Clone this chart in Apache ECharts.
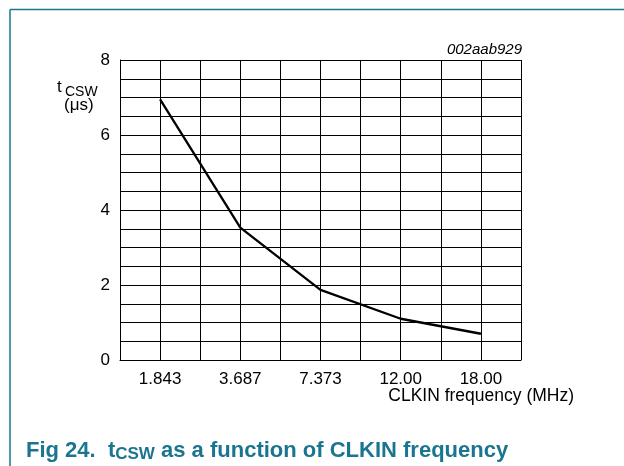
<!DOCTYPE html>
<html>
<head>
<meta charset="utf-8">
<script src="https://cdn.jsdelivr.net/npm/echarts@6/dist/echarts.min.js"></script>
<style>
html,body{margin:0;padding:0;background:#fff;}
#c{width:624px;height:466px;}
</style>
</head>
<body>
<div id="c"></div>
<script>
var categories = ['1.843', '3.687', '7.373', '12.00', '18.00'];
var tcswValues = [6.95, 3.53, 1.87, 1.10, 0.70];
var yTicks = [0, 2, 4, 6, 8];

var FONT = '"Liberation Sans", Arial, Helvetica, sans-serif';
var teal = '#1a7590';

var chart = echarts.init(document.getElementById('c'), null, {renderer: 'canvas'});
chart.setOption({
  animation: false,
  backgroundColor: '#fff',
  grid: {left: 120, right: 103, top: 60, bottom: 106, containLabel: false},
  xAxis: [{
    type: 'category',
    data: categories,
    boundaryGap: true,
    axisLine: {show: true, lineStyle: {color: '#000', width: 1}},
    axisTick: {show: false},
    axisLabel: {color: '#000', fontSize: 17, fontFamily: FONT, margin: 11},
    splitLine: {show: false}
  }, {
    type: 'value',
    min: 0, max: 10, interval: 1,
    position: 'bottom',
    axisLine: {show: false},
    axisTick: {show: false},
    axisLabel: {show: false},
    splitLine: {show: true, lineStyle: {color: '#000', width: 1}}
  }],
  yAxis: [{
    type: 'value',
    min: yTicks[0], max: yTicks[yTicks.length - 1], interval: 2,
    axisLine: {show: true, lineStyle: {color: '#000', width: 1}},
    axisTick: {show: false},
    axisLabel: {color: '#000', fontSize: 17, fontFamily: FONT, margin: 10},
    splitLine: {show: false}
  }, {
    type: 'value',
    min: yTicks[0], max: yTicks[yTicks.length - 1], interval: 0.5,
    position: 'left',
    axisLine: {show: false},
    axisTick: {show: false},
    axisLabel: {show: false},
    splitLine: {show: true, lineStyle: {color: '#000', width: 1}}
  }],
  series: [{
    type: 'line',
    xAxisIndex: 0,
    yAxisIndex: 0,
    data: tcswValues,
    symbol: 'none',
    lineStyle: {color: '#000', width: 2.3},
    z: 10
  }],
  graphic: [
    {type: 'line', shape: {x1: 10, y1: 9.5, x2: 624, y2: 9.5}, style: {stroke: teal, lineWidth: 1.5}},
    {type: 'line', shape: {x1: 10, y1: 9.5, x2: 10, y2: 466}, style: {stroke: teal, lineWidth: 1.5}},
    {type: 'text', right: 102, top: 42, style: {text: '002aab929', font: 'italic 15px ' + FONT, fill: '#000'}},
    {type: 'text', left: 57, top: 79, style: {text: 't', font: '17px ' + FONT, fill: '#000'}},
    {type: 'text', left: 65, top: 85, style: {text: 'CSW', font: '14px ' + FONT, fill: '#000'}},
    {type: 'text', left: 64, top: 97, style: {text: '(\u03bcs)', font: '17px ' + FONT, fill: '#000'}},
    {type: 'text', right: 50, top: 387, style: {text: 'CLKIN frequency (MHz)', font: '17.5px ' + FONT, fill: '#000'}},
    {type: 'text', left: 26, top: 440, style: {
      text: '{n|Fig 24.  t}{s|CSW}{n| as a function of CLKIN frequency}',
      rich: {
        n: {fontSize: 22, fontWeight: 'bold', fontFamily: FONT, fill: teal, color: teal, lineHeight: 24, verticalAlign: 'middle'},
        s: {fontSize: 17, fontWeight: 'bold', fontFamily: FONT, fill: teal, color: teal, lineHeight: 10, verticalAlign: 'bottom'}
      }
    }}
  ]
});
</script>
</body>
</html>
